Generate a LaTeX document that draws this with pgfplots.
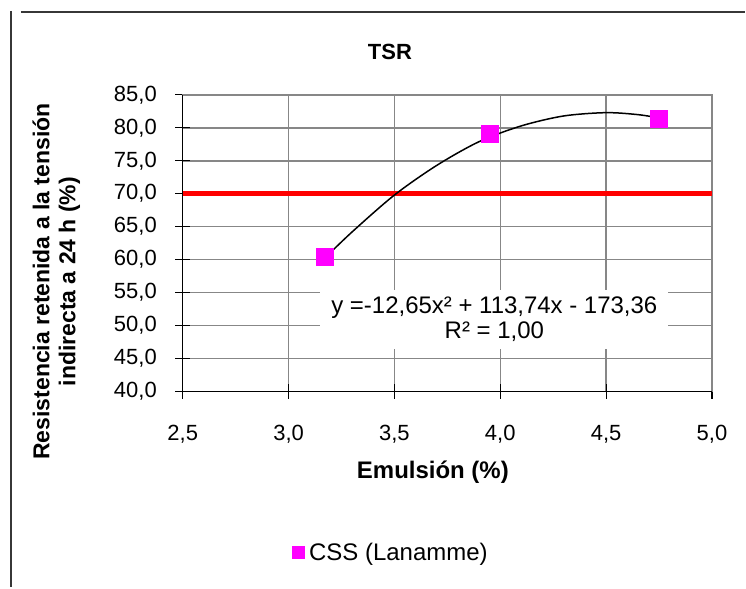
\documentclass[border=0pt]{standalone}
\usepackage{fontspec}
\setmainfont{Liberation Sans}
\usepackage{pgfplots}
\pgfplotsset{compat=1.18}
\definecolor{mag}{RGB}{255,0,255}
\definecolor{gridg}{RGB}{135,135,135}
\definecolor{frameg}{RGB}{55,55,55}
\begin{document}
\begin{tikzpicture}[x=1pt,y=1pt]
\path (0,0) rectangle (746,588);
\draw[frameg, line width=2.2pt] (21,576) -- (746,576);
\draw[frameg, line width=2.2pt] (11,577.1) -- (11,0);
\begin{axis}[
 at={(183pt,196pt)}, anchor=south west,
 scale only axis, width=530pt, height=297pt,
 xmin=2.5, xmax=5, ymin=40, ymax=85,
 xtick={2.5,3.0,3.5,4.0,4.5,5.0},
 ytick={40,45,50,55,60,65,70,75,80,85},
 xtick pos=bottom, ytick pos=left,
 grid=major, major grid style={gridg, line width=1.5pt},
 axis line style={gridg, line width=1.5pt},
 tick align=center, major tick length=15pt,
 tick style={black, line width=1.2pt},
 /pgf/number format/.cd, fixed, fixed zerofill, precision=1, use comma, assume math mode=true,
 /pgfplots/.cd,
 tick label style={font=\fontsize{22}{26}\selectfont},
 yticklabel style={xshift=-15pt},
 xticklabel style={yshift=-23pt},
 legend style={at={(0.2057,-0.542)}, anchor=west, draw=none, fill=none,
   font=\fontsize{24}{28}\selectfont, inner sep=0pt},
 legend image code/.code={\fill[mag] (0pt,-6pt) rectangle (12pt,6pt);},
 legend entries={\hspace{3pt}CSS (Lanamme)},
 after end axis/.code={
   \draw[black, line width=1.5pt] (rel axis cs:0,1) -- (rel axis cs:0,0) -- (rel axis cs:1,0);
 },
]
\addplot[red, line width=5.5pt, forget plot] coordinates {(2.5,70) (5,70)};
\addplot[only marks, mark=square*, mark size=8.5pt, color=mag, mark options={draw=mag, fill=mag}]
  coordinates {(3.17,60.4) (3.95,79.1) (4.75,81.4)};
\addplot[black, line width=1.5pt, smooth, forget plot] coordinates {
 (3.17,60.2) (3.3,64.2) (3.5,69.8) (3.7,74.3) (3.9,77.9) (4.1,80.3)
 (4.3,81.8) (4.5,82.3) (4.65,82.0) (4.75,81.5)};
\node[fill=white, inner xsep=11pt, inner ysep=7pt, align=center,
  font=\fontsize{24}{25}\selectfont] at (axis cs:3.972,50.9)
  {y =-12,65x² + 113,74x - 173,36\\R² = 1,00};
\end{axis}
\node[font=\bfseries\fontsize{22}{26}\selectfont] at (390.5,535.5) {TSR};
\node[font=\bfseries\fontsize{24}{28}\selectfont] at (433.5,115) {Emulsión (\%)};
\node[font=\bfseries\fontsize{23}{26}\selectfont, rotate=90, align=center] at (56.5,306)
  {Resistencia retenida a la tensión\\indirecta a 24 h (\%)};
\end{tikzpicture}
\end{document}
